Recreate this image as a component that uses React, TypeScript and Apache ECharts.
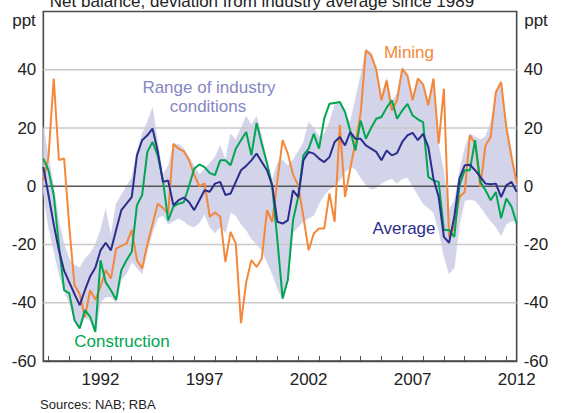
import React, { useEffect, useRef } from 'react';
import * as echarts from 'echarts';

// Quarterly data, first observation 1989 Q4 (plotted at 1989.75)
const START = 1989.75;
const END = 2012.5;
const STEP = 0.25;

const MINING = [
  2, 10, 37, 9, 9.5, -14, -34, -37, -45, -35.7,
  -39, -34.5, -28.8, -31.7, -21.4, -20.5, -19.7, -15, -25.4, -28.2,
  -20, -13, -6, -7.5, -9.4, 14.6, 12.9, 12, 9, 4,
  0, 1, -10.5, -9, -10.5, -26, -15.7, -19.7, -47, -33,
  -25.4, -27.7, -24.8, -8.2, -12.2, 2, 15.8, 11.2, 4, 0.3,
  -10.5, -22, -16.2, -14.5, -14.5, -2.5, -12.2, 21, -3.7, 6,
  15, 25, 46.6, 45, 40, 29.5, 36.3, 26, 29.5, 40.3,
  38, 29.5, 37, 35, 27.8, 37, 14.6, 33.5, -17.4, -14,
  -3.7, -2, 17.5, 14.6, -0.2, 14, 17, 32.3, 35.8, 20.3,
  10, 1,
];

const CONSTRUCTION = [
  9.5, 5.5, -3, -20, -35.7, -36.8, -46, -48.8, -42.5, -44.8,
  -50, -25.4, -33, -35.7, -39, -28.8, -25.4, -22.5, -6.5, -3,
  11.8, 15.2, 10.5, 2, -11.7, -7, -6, -5.5, 0, 6,
  7.5, 6.6, 4.5, 3.8, 8.9, 8.9, 7.2, 12.9, 15.8, 18.6,
  10.6, 21.7, 14.6, 8, 0, -18.5, -38.5, -32.2, -11.7, -3.7,
  10.6, 12.9, 18, 12.9, 23.2, 28.3, 28.6, 28.9, 25.5, 19,
  12.3, 22.6, 16.3, 20, 23.2, 23.8, 27, 29.5, 23.2, 26,
  28.3, 24.3, 23, 22, 3.2, 2, 1.5, -15, -15, -17.4,
  0.3, 5.5, 5.5, 15.8, 1.5, -1.4, -4.8, -2, -11, -4.2,
  -7, -12.8,
];

const AVERAGE = [
  6.6, -3, -13, -22, -29, -33, -37, -40.8, -35.7, -31,
  -28, -22, -19.4, -22, -15, -8.2, -6, -3.7, 10.6, 15.8,
  17.5, 19.8, 12, 1.5, 2, -6.5, -4.8, -3.9, -5.4, -8.2,
  -4.8, -1.4, -1.9, 0.9, 1.5, -3, -2.5, 1.5, 5.5, 7,
  8.9, 11.2, 8.3, 5.5, 0.3, -12.2, -12.8, -11.7, -1.4, -3.7,
  8.9, 11.8, 11.2, 9.5, 8.3, 10, 15.2, 16.9, 14, 18.6,
  16.3, 16.3, 14, 12.9, 11.8, 8.9, 12.3, 10.6, 11.4, 15.2,
  17.5, 18.3, 15.8, 18, 13.5, 2.6, -3.7, -17.4, -19.4, -10.5,
  2.6, 7.2, 7.4, 5.5, 3.2, 0.9, 0.7, 0.9, -3.7, 0.3,
  1.5, -1.9,
];

const RANGE_HIGH = [
  20, 10, 0, -12, -20, -25, -27, -28, -25, -23,
  -20, -15, -8, -17, -6, -3, 0, 3, 12, 18,
  22, 27, 15, 4, 7, 14, 14.5, 13, 10, 7,
  4, 6, 8, 10, 14, 9, 18, 16, 20, 24,
  21, 24, 17, 8, 2, 8, 9, 7, 9, 12,
  15, 22, 20, 17, 18, 22, 28, 29, 25, 22,
  30, 38, 47, 46, 41, 31, 37, 29, 32, 41,
  38, 31, 37, 35, 29, 37, 14, 5, -8, -5,
  5, 13, 18, 17, 16, 17, 22, 32, 35, 22,
  12, 1,
];

const RANGE_LOW = [
  -2, -14, -22, -30, -36, -40, -46, -49, -45, -46,
  -50, -40, -38, -38, -40, -32, -30, -26, -28, -30,
  -22, -16, -11, -10, -13, -12, -11, -12, -13.5, -14,
  -12.5, -9.5, -14, -16, -14, -16, -9, -10, -13, -15,
  -18, -20, -22, -26, -30, -35, -39, -32, -16, -14,
  -12, -11, -10, -6, -3, -1, 0, 2, 5, 6.5,
  6, 3, 0.5, -1, -0.5, 1, 2, 2.6, 1, 2.5,
  3, 0, -3, -6, -7.5, -9, -15, -24, -30, -28,
  -13, -5, -4.5, -5, -7, -9.5, -12, -14, -17, -13,
  -12, -12,
];

const YEAR_TICKS = [
  1990, 1991, 1992, 1993, 1994, 1995, 1996, 1997, 1998, 1999, 2000, 2001,
  2002, 2003, 2004, 2005, 2006, 2007, 2008, 2009, 2010, 2011, 2012,
];
const YEAR_LABELS = [1992, 1997, 2002, 2007, 2012];
const GRID_VALUES = [-40, -20, 20, 40];

const FONT = '"Liberation Sans", Arial, Helvetica, sans-serif';
const C_MINING = '#F4883A';
const C_CONSTR = '#00A651';
const C_AVG = '#2B2E8C';
const C_BAND = '#D3D3EA';
const C_BAND_TEXT = '#8787C4';

export default function App() {
  const ref = useRef<HTMLDivElement>(null);

  useEffect(() => {
    if (!ref.current) return;
    const chart = echarts.init(ref.current, undefined, { renderer: 'svg' });
    const dates = MINING.map((_, i) => START + i * STEP);
    const pair = (arr: number[]) => arr.map((v, i) => [dates[i], v]);

    const yAxisCommon = {
      type: 'value',
      min: -60,
      max: 60,
      interval: 20,
      splitLine: { show: false },
      axisTick: { show: false },
      axisLine: { show: true, lineStyle: { color: '#4a4a4a', width: 1.3 } },
      axisLabel: {
        color: '#222',
        fontSize: 17,
        fontFamily: FONT,
        margin: 7,
        formatter: (v: number) => (v === 60 ? '' : String(v)),
      },
    };

    const text = (t: string, x: number, y: number, color: string, size = 17, align = 'center') => ({
      type: 'text',
      x,
      y,
      silent: true,
      z: 10,
      style: {
        text: t,
        fill: color,
        font: `${size}px ${FONT}`,
        textAlign: align,
        textVerticalAlign: 'middle',
      },
    });

    const renderBand = (params: any, api: any) => {
      if (params.dataIndex !== 0) return null;
      const top = RANGE_HIGH.map((v, i) => api.coord([dates[i], v]));
      const bottom = RANGE_LOW.map((v, i) => api.coord([dates[i], v])).reverse();
      const children: any[] = [
        {
          type: 'polygon',
          shape: { points: top.concat(bottom) },
          style: { fill: C_BAND, stroke: C_BAND, lineWidth: 0.5 },
        },
      ];
      GRID_VALUES.forEach((v) => {
        const a = api.coord([START, v]);
        const b = api.coord([END, v]);
        children.push({
          type: 'line',
          shape: { x1: a[0], y1: a[1], x2: b[0], y2: b[1] },
          style: { stroke: '#c9c9c9', lineWidth: 1.3 },
        });
      });
      const a0 = api.coord([START, 0]);
      const b0 = api.coord([END, 0]);
      children.push({
        type: 'line',
        shape: { x1: a0[0], y1: a0[1], x2: b0[0], y2: b0[1] },
        style: { stroke: '#555555', lineWidth: 1.6 },
      });
      return { type: 'group', children };
    };

    chart.setOption({
      animation: false,
      backgroundColor: '#ffffff',
      grid: {
        left: 43.3,
        right: 44.3,
        top: 11.5,
        bottom: 52,
        show: true,
        borderColor: '#4a4a4a',
        borderWidth: 1.3,
      },
      xAxis: {
        type: 'value',
        min: START,
        max: END,
        splitLine: { show: false },
        axisLine: { show: true, onZero: false, lineStyle: { color: '#4a4a4a', width: 1.3 } },
        axisTick: {
          show: true,
          inside: true,
          length: 5,
          customValues: YEAR_TICKS,
          lineStyle: { color: '#4a4a4a', width: 1 },
        },
        axisLabel: {
          customValues: YEAR_LABELS.map((y) => y + 0.5),
          formatter: (v: number) => String(Math.floor(v)),
          color: '#222',
          fontSize: 17,
          fontFamily: FONT,
          margin: 10,
          showMaxLabel: true,
        },
      },
      yAxis: [
        { ...yAxisCommon, position: 'left' },
        { ...yAxisCommon, position: 'right' },
      ],
      series: [
        {
          name: 'Range of industry conditions',
          type: 'custom',
          renderItem: renderBand,
          data: dates.map((d, i) => [d, RANGE_LOW[i], RANGE_HIGH[i]]),
          encode: { x: 0, y: [1, 2] },
          silent: true,
          z: 1,
        },
        {
          name: 'Mining',
          type: 'line',
          data: pair(MINING),
          symbol: 'none',
          lineStyle: { color: C_MINING, width: 2 },
          z: 3,
        },
        {
          name: 'Construction',
          type: 'line',
          data: pair(CONSTRUCTION),
          symbol: 'none',
          lineStyle: { color: C_CONSTR, width: 2 },
          z: 4,
        },
        {
          name: 'Average',
          type: 'line',
          data: pair(AVERAGE),
          symbol: 'none',
          lineStyle: { color: C_AVG, width: 2 },
          z: 5,
        },
      ],
      graphic: [
        text('Net balance, deviation from industry average since 1989', 262, 1, '#222'),
        text('ppt', 24, 20, '#222'),
        text('ppt', 536, 20, '#222'),
        text('Mining', 409, 52, C_MINING),
        text('Range of industry', 209, 87, C_BAND_TEXT),
        text('conditions', 208, 106, C_BAND_TEXT),
        text('Average', 404, 228, C_AVG),
        text('Construction', 122, 341, C_CONSTR),
        text('Sources: NAB; RBA', 40, 404, '#222', 13, 'left'),
      ],
    });

    return () => chart.dispose();
  }, []);

  return (
    <div
      ref={ref}
      style={{ position: 'fixed', left: 0, top: 0, width: 561, height: 413, background: '#fff' }}
    />
  );
}
